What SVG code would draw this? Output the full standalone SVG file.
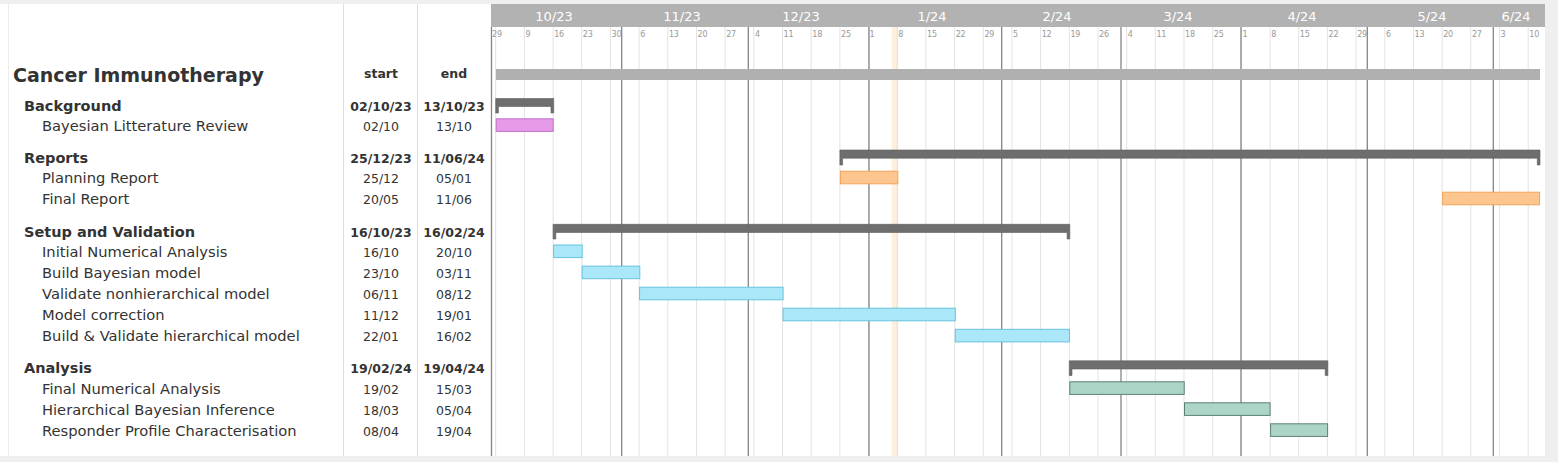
<svg xmlns="http://www.w3.org/2000/svg" width="1558" height="462" viewBox="0 0 1558 462">
<style>
text{font-family:"DejaVu Sans","Liberation Sans",sans-serif;fill:#333}
.title{font-size:19px;font-weight:bold}
.hdr{font-size:12.5px;font-weight:bold;text-anchor:middle}
.grp{font-size:14.5px;font-weight:bold}
.task{font-size:14.7px}
.dg{font-size:12.5px;font-weight:bold;text-anchor:middle}
.dt{font-size:12.5px;text-anchor:middle}
.mon{font-size:13px;fill:#fff;text-anchor:middle}
.wk{font-size:8px;fill:#999;letter-spacing:-0.2px}
.wl{stroke:#e3e3e3;stroke-width:1}
.ml{stroke:#858585;stroke-width:1.3}
.col{stroke:#dedede;stroke-width:1}
.gbar{fill:#6e6e6e;stroke:#5e5e5e;stroke-width:0.6}
.pink{fill:#e69be9;stroke:#c56fc9;stroke-width:1}
.orange{fill:#fdc68e;stroke:#f0a55e;stroke-width:1}
.cyan{fill:#aae8f9;stroke:#67c3df;stroke-width:1}
.green{fill:#acd5c8;stroke:#5c7f73;stroke-width:1}
</style>
<rect x="0" y="0" width="1558" height="462" fill="#efefef"/>
<rect x="0" y="4" width="1545" height="452" fill="#ffffff"/>
<line x1="8.5" y1="4" x2="8.5" y2="456" stroke="#ececec"/>
<line class="col" x1="343.5" y1="4" x2="343.5" y2="456"/>
<line class="col" x1="417.5" y1="4" x2="417.5" y2="456"/>

<!-- highlight column -->
<rect x="891.7" y="27" width="6.6" height="429" fill="#fdf0dc"/>

<!-- header band -->
<rect x="491" y="4" width="1054" height="23" fill="#b2b2b2"/>
<g id="months">
<text class="mon" x="554" y="21">10/23</text>
<text class="mon" x="682" y="21">11/23</text>
<text class="mon" x="801" y="21">12/23</text>
<text class="mon" x="932" y="21">1/24</text>
<text class="mon" x="1057" y="21">2/24</text>
<text class="mon" x="1178" y="21">3/24</text>
<text class="mon" x="1302" y="21">4/24</text>
<text class="mon" x="1432" y="21">5/24</text>
<text class="mon" x="1516" y="21">6/24</text>
</g>

<g id="grid">
<line class="wl" x1="495.7" y1="27" x2="495.7" y2="456"/>
<line class="wl" x1="524.4" y1="27" x2="524.4" y2="456"/>
<line class="wl" x1="553.1" y1="27" x2="553.1" y2="456"/>
<line class="wl" x1="581.7" y1="27" x2="581.7" y2="456"/>
<line class="wl" x1="610.4" y1="27" x2="610.4" y2="456"/>
<line class="wl" x1="639.1" y1="27" x2="639.1" y2="456"/>
<line class="wl" x1="667.8" y1="27" x2="667.8" y2="456"/>
<line class="wl" x1="696.5" y1="27" x2="696.5" y2="456"/>
<line class="wl" x1="725.1" y1="27" x2="725.1" y2="456"/>
<line class="wl" x1="753.8" y1="27" x2="753.8" y2="456"/>
<line class="wl" x1="782.5" y1="27" x2="782.5" y2="456"/>
<line class="wl" x1="811.2" y1="27" x2="811.2" y2="456"/>
<line class="wl" x1="839.9" y1="27" x2="839.9" y2="456"/>
<line class="wl" x1="868.5" y1="27" x2="868.5" y2="456"/>
<line class="wl" x1="897.2" y1="27" x2="897.2" y2="456"/>
<line class="wl" x1="925.9" y1="27" x2="925.9" y2="456"/>
<line class="wl" x1="954.6" y1="27" x2="954.6" y2="456"/>
<line class="wl" x1="983.3" y1="27" x2="983.3" y2="456"/>
<line class="wl" x1="1011.9" y1="27" x2="1011.9" y2="456"/>
<line class="wl" x1="1040.6" y1="27" x2="1040.6" y2="456"/>
<line class="wl" x1="1069.3" y1="27" x2="1069.3" y2="456"/>
<line class="wl" x1="1098" y1="27" x2="1098" y2="456"/>
<line class="wl" x1="1126.7" y1="27" x2="1126.7" y2="456"/>
<line class="wl" x1="1155.3" y1="27" x2="1155.3" y2="456"/>
<line class="wl" x1="1184" y1="27" x2="1184" y2="456"/>
<line class="wl" x1="1212.7" y1="27" x2="1212.7" y2="456"/>
<line class="wl" x1="1241.4" y1="27" x2="1241.4" y2="456"/>
<line class="wl" x1="1270.1" y1="27" x2="1270.1" y2="456"/>
<line class="wl" x1="1298.7" y1="27" x2="1298.7" y2="456"/>
<line class="wl" x1="1327.4" y1="27" x2="1327.4" y2="456"/>
<line class="wl" x1="1356.1" y1="27" x2="1356.1" y2="456"/>
<line class="wl" x1="1384.8" y1="27" x2="1384.8" y2="456"/>
<line class="wl" x1="1413.5" y1="27" x2="1413.5" y2="456"/>
<line class="wl" x1="1442.1" y1="27" x2="1442.1" y2="456"/>
<line class="wl" x1="1470.8" y1="27" x2="1470.8" y2="456"/>
<line class="wl" x1="1499.5" y1="27" x2="1499.5" y2="456"/>
<line class="wl" x1="1528.2" y1="27" x2="1528.2" y2="456"/>
<line class="ml" x1="491.5" y1="27" x2="491.5" y2="456"/>
<line class="ml" x1="621.7" y1="27" x2="621.7" y2="456"/>
<line class="ml" x1="748.3" y1="27" x2="748.3" y2="456"/>
<line class="ml" x1="869" y1="27" x2="869" y2="456"/>
<line class="ml" x1="1001.7" y1="27" x2="1001.7" y2="456"/>
<line class="ml" x1="1121" y1="27" x2="1121" y2="456"/>
<line class="ml" x1="1241" y1="27" x2="1241" y2="456"/>
<line class="ml" x1="1367.3" y1="27" x2="1367.3" y2="456"/>
<line class="ml" x1="1493.3" y1="27" x2="1493.3" y2="456"/>
</g>

<g id="weeks">
<text class="wk" x="492" y="37">29</text>
<text class="wk" x="525.5" y="37">9</text>
<text class="wk" x="554.2" y="37">16</text>
<text class="wk" x="582.8" y="37">23</text>
<text class="wk" x="611.5" y="37">30</text>
<text class="wk" x="640.2" y="37">6</text>
<text class="wk" x="668.9" y="37">13</text>
<text class="wk" x="697.6" y="37">20</text>
<text class="wk" x="726.2" y="37">27</text>
<text class="wk" x="754.9" y="37">4</text>
<text class="wk" x="783.6" y="37">11</text>
<text class="wk" x="812.3" y="37">18</text>
<text class="wk" x="841" y="37">25</text>
<text class="wk" x="869.6" y="37">1</text>
<text class="wk" x="898.3" y="37">8</text>
<text class="wk" x="927" y="37">15</text>
<text class="wk" x="955.7" y="37">22</text>
<text class="wk" x="984.4" y="37">29</text>
<text class="wk" x="1013" y="37">5</text>
<text class="wk" x="1041.7" y="37">12</text>
<text class="wk" x="1070.4" y="37">19</text>
<text class="wk" x="1099.1" y="37">26</text>
<text class="wk" x="1127.8" y="37">4</text>
<text class="wk" x="1156.4" y="37">11</text>
<text class="wk" x="1185.1" y="37">18</text>
<text class="wk" x="1213.8" y="37">25</text>
<text class="wk" x="1242.5" y="37">1</text>
<text class="wk" x="1271.2" y="37">8</text>
<text class="wk" x="1299.8" y="37">15</text>
<text class="wk" x="1328.5" y="37">22</text>
<text class="wk" x="1357.2" y="37">29</text>
<text class="wk" x="1385.9" y="37">6</text>
<text class="wk" x="1414.6" y="37">13</text>
<text class="wk" x="1443.2" y="37">20</text>
<text class="wk" x="1471.9" y="37">27</text>
<text class="wk" x="1500.6" y="37">3</text>
<text class="wk" x="1529.3" y="37">10</text>
</g>

<g id="project">
<text class="title" x="13" y="82.3">Cancer Immunotherapy</text>
<text class="hdr" x="381" y="77.5">start</text>
<text class="hdr" x="454" y="77.5">end</text>
<rect x="496" y="69" width="1044" height="11" fill="#b0b0b0"/>
</g>

<g id="connectors"></g>

<g id="background">
<text class="grp" x="24" y="111">Background</text>
<text class="dg" x="381" y="111">02/10/23</text>
<text class="dg" x="454" y="111">13/10/23</text>
<path class="gbar" d="M495.7 98.5H553.7V113H551V106.5H498.4V113H495.7Z"/>
</g>
<g id="task-bayesian-litterature-review">
<text class="task" x="42" y="130.8">Bayesian Litterature Review</text>
<text class="dt" x="381" y="130.8">02/10</text>
<text class="dt" x="454" y="130.8">13/10</text>
<rect class="pink" x="496.2" y="118.8" width="57" height="12.6"/>
</g>

<g id="reports">
<text class="grp" x="24" y="162.5">Reports</text>
<text class="dg" x="381" y="162.5">25/12/23</text>
<text class="dg" x="454" y="162.5">11/06/24</text>
<path class="gbar" d="M839.9 150H1540V165H1537.3V158.2H842.6V165H839.9Z"/>
</g>
<g id="task-planning-report">
<text class="task" x="42" y="183.3">Planning Report</text>
<text class="dt" x="381" y="183.3">25/12</text>
<text class="dt" x="454" y="183.3">05/01</text>
<rect class="orange" x="840.4" y="171.2" width="57.4" height="12.6"/>
</g>
<g id="task-final-report">
<text class="task" x="42" y="204.3">Final Report</text>
<text class="dt" x="381" y="204.3">20/05</text>
<text class="dt" x="454" y="204.3">11/06</text>
<rect class="orange" x="1442.6" y="192.2" width="97" height="12.6"/>
</g>

<g id="setup-and-validation">
<text class="grp" x="24" y="236.5">Setup and Validation</text>
<text class="dg" x="381" y="236.5">16/10/23</text>
<text class="dg" x="454" y="236.5">16/02/24</text>
<path class="gbar" d="M553.1 224.3H1069.8V239H1067.1V232.5H555.8V239H553.1Z"/>
</g>
<g id="task-initial-numerical-analysis">
<text class="task" x="42" y="257.3">Initial Numerical Analysis</text>
<text class="dt" x="381" y="257.3">16/10</text>
<text class="dt" x="454" y="257.3">20/10</text>
<rect class="cyan" x="553.6" y="245" width="28.6" height="12.6"/>
</g>
<g id="task-build-bayesian-model">
<text class="task" x="42" y="278.3">Build Bayesian model</text>
<text class="dt" x="381" y="278.3">23/10</text>
<text class="dt" x="454" y="278.3">03/11</text>
<rect class="cyan" x="582.2" y="266.1" width="57.6" height="12.6"/>
</g>
<g id="task-validate-nonhierarchical-model">
<text class="task" x="42" y="299.3">Validate nonhierarchical model</text>
<text class="dt" x="381" y="299.3">06/11</text>
<text class="dt" x="454" y="299.3">08/12</text>
<rect class="cyan" x="639.6" y="287.2" width="143.5" height="12.6"/>
</g>
<g id="task-model-correction">
<text class="task" x="42" y="320.3">Model correction</text>
<text class="dt" x="381" y="320.3">11/12</text>
<text class="dt" x="454" y="320.3">19/01</text>
<rect class="cyan" x="783.1" y="308.2" width="172.2" height="12.6"/>
</g>
<g id="task-build-validate-hierarchical-model">
<text class="task" x="42" y="341.3">Build &amp; Validate hierarchical model</text>
<text class="dt" x="381" y="341.3">22/01</text>
<text class="dt" x="454" y="341.3">16/02</text>
<rect class="cyan" x="955.3" y="329.3" width="114.2" height="12.6"/>
</g>

<g id="analysis">
<text class="grp" x="24" y="373">Analysis</text>
<text class="dg" x="381" y="373">19/02/24</text>
<text class="dg" x="454" y="373">19/04/24</text>
<path class="gbar" d="M1069.3 360.8H1327.9V375.5H1325.2V369H1072V375.5H1069.3Z"/>
</g>
<g id="task-final-numerical-analysis">
<text class="task" x="42" y="394">Final Numerical Analysis</text>
<text class="dt" x="381" y="394">19/02</text>
<text class="dt" x="454" y="394">15/03</text>
<rect class="green" x="1069.8" y="381.8" width="114.4" height="12.6"/>
</g>
<g id="task-hierarchical-bayesian-inference">
<text class="task" x="42" y="415">Hierarchical Bayesian Inference</text>
<text class="dt" x="381" y="415">18/03</text>
<text class="dt" x="454" y="415">05/04</text>
<rect class="green" x="1184.5" y="402.8" width="85.6" height="12.6"/>
</g>
<g id="task-responder-profile-characterisation">
<text class="task" x="42" y="436">Responder Profile Characterisation</text>
<text class="dt" x="381" y="436">08/04</text>
<text class="dt" x="454" y="436">19/04</text>
<rect class="green" x="1270.6" y="423.8" width="57" height="12.6"/>
</g>
</svg>
